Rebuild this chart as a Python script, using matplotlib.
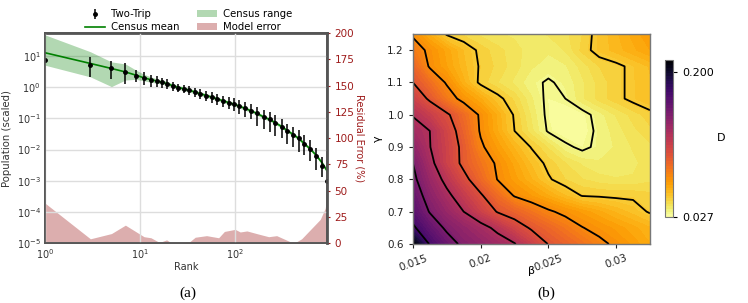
import numpy as np
import matplotlib
matplotlib.use("Agg")
import matplotlib.pyplot as plt

plt.rcParams['font.family'] = ['DejaVu Sans']

# ---------------- (a) rank plot data ----------------
tt_rank = [1, 3, 5, 7, 9, 11, 13, 15, 17, 19, 22, 25, 29, 33, 38, 43, 49, 57, 65, 74,
           86, 98, 111, 127, 146, 169, 199, 230, 264, 310, 355, 405, 464, 532, 615,
           713, 818, 923]
tt_val = [7.4, 5.1, 4.0, 3.0, 2.35, 1.91, 1.68, 1.53, 1.42, 1.28, 1.08, 0.95, 0.88, 0.80,
          0.69, 0.61, 0.54, 0.48, 0.41, 0.36, 0.32, 0.29, 0.245, 0.21, 0.178, 0.145,
          0.11, 0.093, 0.073, 0.052, 0.038, 0.030, 0.023, 0.015, 0.0105, 0.006, 0.0030,
          0.00095]
tt_low = [7.4, 2.15, 1.9, 1.25, 1.45, 1.16, 1.02, 1.0, 0.95, 0.85, 0.78, 0.69, 0.63, 0.57,
          0.49, 0.43, 0.37, 0.32, 0.27, 0.23, 0.20, 0.17, 0.14, 0.115, 0.093, 0.059,
          0.045, 0.036, 0.027, 0.023, 0.015, 0.012, 0.0085, 0.0065, 0.0042, 0.0022,
          0.0013, 0.00095]
tt_high = [7.4, 9.5, 7.0, 5.8, 3.7, 3.1, 2.5, 2.25, 2.05, 1.85, 1.45, 1.28, 1.19, 1.09,
           0.95, 0.85, 0.77, 0.69, 0.60, 0.54, 0.49, 0.45, 0.39, 0.34, 0.29, 0.232,
           0.18, 0.155, 0.125, 0.095, 0.068, 0.054, 0.042, 0.029, 0.020, 0.0115,
           0.0057, 0.00095]

census_mean = [12.8, 5.8, 4.0, 3.1, 2.45, 2.0, 1.75, 1.58, 1.45, 1.32, 1.12, 0.99, 0.89,
               0.80, 0.70, 0.62, 0.55, 0.48, 0.42, 0.37, 0.32, 0.285, 0.245, 0.21, 0.176,
               0.145, 0.112, 0.092, 0.073, 0.054, 0.040, 0.031, 0.023, 0.0155, 0.0105,
               0.0065, 0.0038, 0.0021]
census_high = [48, 13.8, 6.5, 5.6, 3.6, 2.6, 2.15, 1.85, 1.7, 1.55, 1.3, 1.14, 1.02, 0.92,
               0.80, 0.71, 0.63, 0.55, 0.48, 0.42, 0.365, 0.325, 0.28, 0.24, 0.20, 0.165,
               0.127, 0.104, 0.082, 0.061, 0.045, 0.035, 0.026, 0.0175, 0.0119, 0.0074,
               0.0043, 0.0024]
census_low = [5.1, 2.15, 1.05, 1.7, 1.8, 1.6, 1.45, 1.35, 1.25, 1.15, 0.98, 0.87, 0.78,
              0.70, 0.61, 0.54, 0.48, 0.42, 0.37, 0.32, 0.28, 0.25, 0.215, 0.183, 0.155,
              0.127, 0.098, 0.081, 0.064, 0.048, 0.035, 0.027, 0.020, 0.0137, 0.0093,
              0.0057, 0.0033, 0.0018]

err_rank = [1, 3, 5, 7, 11, 13, 16, 19, 21, 26, 33, 38, 50, 67, 77, 100, 113, 133, 176,
            225, 273, 380, 425, 500, 615, 785, 885, 923]
err_val = [38, 4, 9, 17, 6, 5, 0.5, 3, 0.5, 0, 1, 5.5, 7, 5, 11, 13, 10.5, 11.5, 8.5, 6,
           7, 1.2, 0.3, 4, 12.5, 22.5, 33, 44]

# ---------------- (b) D surface data ----------------
beta = [0.015, 0.01625, 0.0175, 0.01875, 0.02, 0.02125, 0.0225, 0.02375, 0.025,
        0.02625, 0.0275, 0.02875, 0.03, 0.03125, 0.0325]
gamma = [0.6, 0.65, 0.7, 0.75, 0.8, 0.85, 0.9, 0.95, 1.0, 1.05, 1.1, 1.15, 1.2, 1.25]
D_rows = [
    [0.214, 0.173, 0.158, 0.146, 0.140, 0.133, 0.126, 0.113, 0.0995, 0.0925, 0.0854, 0.0783, 0.0725, 0.067, 0.062],
    [0.178, 0.161, 0.147, 0.139, 0.131, 0.121, 0.109, 0.098, 0.0905, 0.083, 0.0755, 0.071, 0.067, 0.063, 0.059],
    [0.166, 0.149, 0.137, 0.125, 0.112, 0.099, 0.092, 0.0845, 0.077, 0.0716, 0.067, 0.0626, 0.058, 0.054, 0.049],
    [0.160, 0.1425, 0.129, 0.1155, 0.102, 0.0873, 0.0739, 0.068, 0.0618, 0.0555, 0.0495, 0.049, 0.0485, 0.0485, 0.047],
    [0.154, 0.1363, 0.1201, 0.1049, 0.0895, 0.0745, 0.0665, 0.059, 0.051, 0.046, 0.043, 0.041, 0.040, 0.040, 0.042],
    [0.150, 0.1298, 0.1117, 0.0961, 0.0843, 0.0728, 0.0636, 0.0549, 0.048, 0.043, 0.039, 0.037, 0.037, 0.039, 0.041],
    [0.141, 0.1255, 0.1112, 0.0957, 0.0772, 0.067, 0.058, 0.0495, 0.0423, 0.034, 0.030, 0.034, 0.037, 0.040, 0.042],
    [0.132, 0.125, 0.1093, 0.092, 0.0735, 0.0618, 0.050, 0.0407, 0.031, 0.027, 0.028, 0.034, 0.038, 0.042, 0.045],
    [0.124, 0.1138, 0.1026, 0.0882, 0.0728, 0.0609, 0.049, 0.039, 0.030, 0.027, 0.029, 0.035, 0.040, 0.044, 0.048],
    [0.1118, 0.0973, 0.0821, 0.0705, 0.062, 0.0525, 0.045, 0.037, 0.030, 0.032, 0.039, 0.044, 0.048, 0.052, 0.055],
    [0.100, 0.0867, 0.0735, 0.0594, 0.048, 0.043, 0.039, 0.034, 0.031, 0.034, 0.039, 0.044, 0.048, 0.052, 0.055],
    [0.091, 0.0735, 0.065, 0.0565, 0.049, 0.045, 0.041, 0.037, 0.035, 0.036, 0.041, 0.046, 0.048, 0.052, 0.056],
    [0.082, 0.072, 0.0636, 0.0553, 0.048, 0.044, 0.041, 0.038, 0.037, 0.040, 0.047, 0.053, 0.057, 0.061, 0.065],
    [0.073, 0.061, 0.049, 0.045, 0.042, 0.040, 0.039, 0.039, 0.040, 0.042, 0.046, 0.053, 0.058, 0.063, 0.068],
]
line_levels = [0.032, 0.05, 0.075, 0.1, 0.125, 0.15, 0.175]
cbar_ticks = [0.027, 0.2]
cbar_ticklabels = ['0.027', '0.200']
beta_ticks = [0.015, 0.02, 0.025, 0.03]
beta_ticklabels = ['0.015', '0.02', '0.025', '0.03']

# ---------------- figure ----------------
fig = plt.figure(figsize=(7.48, 3.03), dpi=100)

spine_c = '#555555'
red_c = '#9e1b1b'

ax = fig.add_axes([0.0602, 0.198, 0.377, 0.693])
ax2 = ax.twinx()
ax.set_zorder(ax2.get_zorder() + 1)
ax.patch.set_visible(False)
ax2.patch.set_facecolor('white')

ax2.fill_between(err_rank, 0, err_val, color='brown', alpha=0.38, lw=0,
                 label='Model error')
ax2.set_ylim(0, 200)
ax2.set_yticks(range(0, 201, 25))
ax2.tick_params(axis='y', colors=red_c, labelsize=7.5, length=2)
ax2.set_ylabel('Residual Error (%)', color=red_c, rotation=270, labelpad=7,
               fontsize=7)

ax.set_xscale('log')
ax.set_yscale('log')
ax.grid(True, color='#dddddd', lw=1.0)
ax.set_axisbelow(True)
ax.fill_between(tt_rank, census_low, census_high, color='green', alpha=0.3, lw=0,
                label='Census range')
ax.plot(tt_rank, census_mean, color='green', lw=1.2, label='Census mean')
yerr = [np.array(tt_val) - np.array(tt_low), np.array(tt_high) - np.array(tt_val)]
ax.errorbar(tt_rank, tt_val, yerr=yerr, fmt='o', color='black', ms=2.5,
            elinewidth=1.1, capsize=0, label='Two-Trip')
ax.set_xlim(1, 925)
ax.set_ylim(1e-5, 55)
ax.set_yticks([1e-5, 1e-4, 1e-3, 1e-2, 1e-1, 1e0, 1e1])
ax.minorticks_off()
ax.tick_params(axis='both', labelsize=7, colors='#333333', length=0, pad=3)
ax.set_xlabel('Rank', fontsize=7, color='#333333', labelpad=1)
ax.set_ylabel('Population (scaled)', fontsize=7.3, color='#333333', labelpad=3)
for a in (ax, ax2):
    for s in a.spines.values():
        s.set_color(spine_c)
        s.set_linewidth(1.2)
ax2.spines['right'].set_linewidth(2)
ax2.spines['top'].set_linewidth(2)

h1, l1 = ax.get_legend_handles_labels()
h2, l2 = ax2.get_legend_handles_labels()
hd = dict(zip(l1 + l2, h1 + h2))
order = ['Two-Trip', 'Census mean', 'Census range', 'Model error']
ax.legend([hd[k] for k in order], order, ncol=2, loc='lower center',
          bbox_to_anchor=(0.51, 0.975), frameon=False, fontsize=7.3,
          columnspacing=1.7, handlelength=2.0, handletextpad=0.6,
          labelspacing=0.3, borderaxespad=0.2)

# ---------------- (b) ----------------
ax3 = fig.add_axes([0.552, 0.1947, 0.317, 0.693])
B, G = np.meshgrid(beta, gamma)
D = np.array(D_rows)
cf = ax3.contourf(B, G, D, levels=np.linspace(0.027, 0.214, 60), cmap='inferno_r')
ax3.contour(B, G, D, levels=line_levels, colors='black', linewidths=1.3)
ax3.set_xlim(0.015, 0.0325)
ax3.set_ylim(0.6, 1.25)
ax3.set_xticks(beta_ticks)
ax3.set_xticklabels(beta_ticklabels, rotation=20)
ax3.set_yticks([0.6, 0.7, 0.8, 0.9, 1.0, 1.1, 1.2])
ax3.tick_params(labelsize=7.5, length=3, colors='#222222')
ax3.set_xlabel('β', fontsize=8, labelpad=-5)
ax3.set_ylabel('γ', fontsize=8, labelpad=3)
for s in ax3.spines.values():
    s.set_color('#777777')
    s.set_linewidth(1.0)

cax = fig.add_axes([0.889, 0.284, 0.0107, 0.518])
cb = fig.colorbar(cf, cax=cax, ticks=cbar_ticks)
cb.ax.set_yticklabels(cbar_ticklabels)
cb.ax.tick_params(labelsize=8, length=3)
cb.outline.set_edgecolor('#777777')
cb.set_label('D', rotation=0, fontsize=8, labelpad=5, va='center')

fig.text(0.251, 0.022, '(a)', fontsize=11, family='Liberation Serif', ha='center')
fig.text(0.730, 0.022, '(b)', fontsize=11, family='Liberation Serif', ha='center')

fig.savefig('out.png', dpi=100)
